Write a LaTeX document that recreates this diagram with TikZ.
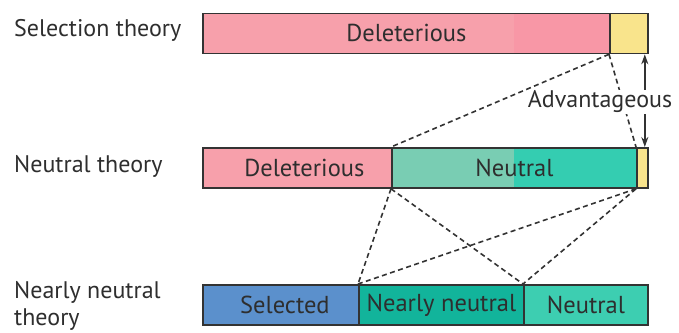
\documentclass[tikz,border=0pt]{standalone}
\usepackage{fontspec}
\setmainfont{PT Sans}
\usetikzlibrary{arrows.meta}
\definecolor{ink}{HTML}{2E2E2E}
\definecolor{edge}{HTML}{333333}
\definecolor{delA}{HTML}{F7A0AB}
\definecolor{delB}{HTML}{F897A6}
\definecolor{advY}{HTML}{F9E48C}
\definecolor{neuA}{HTML}{79CDB3}
\definecolor{neuB}{HTML}{34CDB1}
\definecolor{selB}{HTML}{5B90CC}
\definecolor{nnT}{HTML}{12B49B}
\definecolor{neuC}{HTML}{3DCEB1}
\begin{document}
\begin{tikzpicture}[x=1pt,y=-1pt,
  seg/.style={draw=edge, line width=1.8pt, minimum height=40pt, inner sep=0pt,
    anchor=north west, font=\fontsize{24.5}{28}\selectfont, text=ink},
  split/.style 2 args={path picture={\fill[#1]
    ([xshift=#2]path picture bounding box.north west) rectangle
    (path picture bounding box.south east);}},
  theory/.style={anchor=west, align=left, font=\fontsize{24}{27}\selectfont, text=ink, inner sep=0pt},
  link/.style={draw=edge, line width=1.6pt, dash pattern=on 5pt off 3.5pt},
  span/.style={draw=edge, line width=1.6pt, {Stealth[length=10pt,width=7pt]}-{Stealth[length=10pt,width=7pt]}}]
\useasboundingbox (0,0) rectangle (679,332);

% row labels
\node[theory] (lsel) at (14,30) {Selection theory};
\node[theory] (lneu) at (14,166) {Neutral theory};
\node[theory] (lnn) at (14,306) {Nearly neutral\\theory};

% selection theory bar
\node[seg, fill=delA, split={delB}{311pt}, minimum width=407pt] (tdel) at (202,12.5) {Deleterious};
\node[seg, fill=advY, minimum width=38pt] (tadv) at (609,12.5) {};

% neutral theory bar
\node[seg, fill=delA, minimum width=189pt] (mdel) at (202,147) {\hspace*{14pt}Deleterious};
\node[seg, fill=neuA, split={neuB}{122pt}, minimum width=245pt] (mneu) at (391,147) {Neutral};
\node[seg, fill=advY, minimum width=11pt] (madv) at (636,147) {};

% nearly neutral theory bar
\node[seg, fill=selB, minimum width=156pt] (bsel) at (202,284) {\hspace*{8pt}Selected};
\node[seg, fill=nnT, minimum width=165pt] (bnn) at (358,284) {Nearly neutral};
\node[seg, fill=neuC, minimum width=124pt] (bneu) at (523,284) {Neutral};

% correspondences between the bars
\draw[link] (tadv.south west) -- (mneu.north west);
\draw[link] (tadv.south west) -- (madv.north west);
\draw[link] (mneu.south west) -- (bnn.north west);
\draw[link] (mneu.south west) -- (bneu.north west);
\draw[link] (madv.south west) -- (bnn.north west);
\draw[link] (madv.south west) -- (bneu.north west);

% advantageous span
\coordinate (atop) at ([xshift=-4pt]tadv.south east);
\coordinate (abot) at ([xshift=-4pt]madv.north east);
\draw[span] (atop) -- (abot);
\node[fill=white, inner sep=1pt, font=\fontsize{24}{27}\selectfont, text=ink] (adv) at (600,102) {Advantageous};
\end{tikzpicture}
\end{document}
